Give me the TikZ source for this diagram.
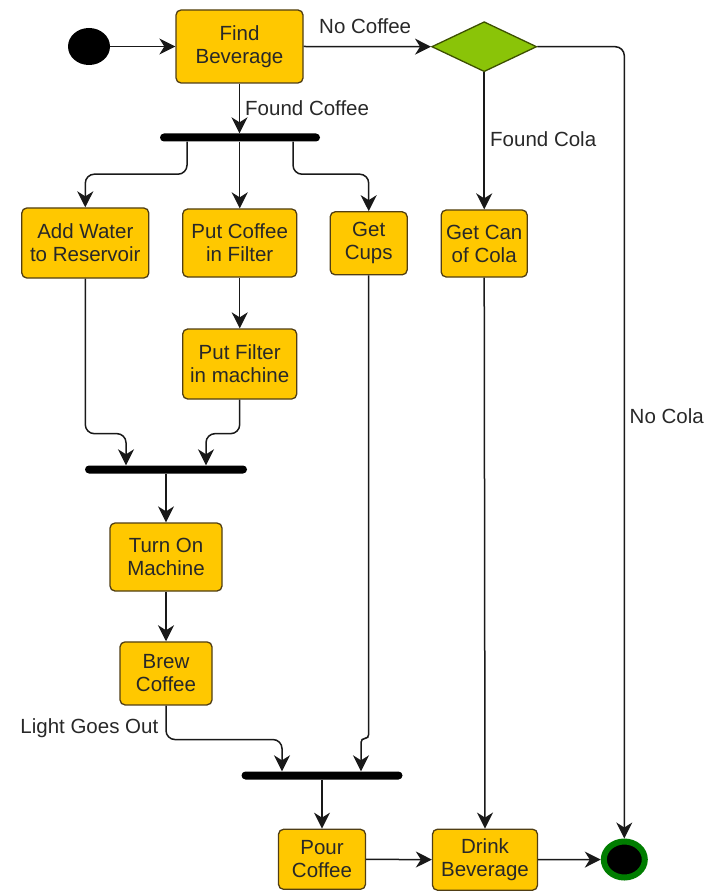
\documentclass[tikz,border=0pt]{standalone}
\usepackage{fontspec}
\setmainfont{Liberation Sans}
\usetikzlibrary{shapes.geometric,arrows.meta,calc}
\definecolor{boxfill}{RGB}{255,200,0}
\definecolor{boxline}{RGB}{80,62,20}
\definecolor{decfill}{RGB}{138,196,8}
\definecolor{decline}{RGB}{60,80,0}
\definecolor{endring}{RGB}{0,125,0}
\definecolor{ink}{RGB}{40,40,40}
\tikzset{
  act/.style={draw=boxline, fill=boxfill, line width=1.3pt, rounded corners=5pt,
    inner sep=0pt, align=center, text=ink, font=\fontsize{20.5}{23}\selectfont},
  bar/.style={fill=black, rounded corners=4pt, inner sep=0pt, minimum height=8pt},
  lbl/.style={text=ink, font=\fontsize{20.5}{23}\selectfont, inner sep=0pt},
  flow/.style={draw=black!90, line width=1.5pt, rounded corners=9pt,
    -{Stealth[length=16pt,width=16pt,inset=5pt]}},
}
\begin{document}
\begin{tikzpicture}[x=1pt,y=-1pt]
\useasboundingbox (0,0) rectangle (721,893);
% start / end
\node[ellipse, fill=black, minimum width=42pt, minimum height=37pt, inner sep=0pt] (start) at (89,46.5) {};
\node[ellipse, fill=black, draw=endring, line width=6pt, minimum width=41pt, minimum height=36pt, inner sep=0pt] (end) at (624.3,859.5) {};
% activities
\node[act, minimum width=127pt, minimum height=73pt] (find) at (239.5,46.5) {Find\\Beverage};
\node[act, minimum width=127pt, minimum height=70pt] (water) at (85.3,243) {Add Water\\to Reservoir};
\node[act, minimum width=114pt, minimum height=68pt] (putc) at (239.7,243) {Put Coffee\\in Filter};
\node[act, minimum width=77pt, minimum height=63pt] (cups) at (368.7,243.3) {Get\\Cups};
\node[act, minimum width=86pt, minimum height=67pt] (cola) at (484.2,243.5) {Get Can\\of Cola};
\node[act, minimum width=114pt, minimum height=70pt] (filt) at (239.7,364) {Put Filter\\in machine};
\node[act, minimum width=112pt, minimum height=68pt] (turn) at (166,557) {Turn On\\Machine};
\node[act, minimum width=92pt, minimum height=63pt] (brew) at (166,673.4) {Brew\\Coffee};
\node[act, minimum width=87pt, minimum height=60pt] (pour) at (322,859.3) {Pour\\Coffee};
\node[act, minimum width=105pt, minimum height=61pt] (drink) at (485,859.7) {Drink\\Beverage};
% decision
\node[diamond, draw=decline, fill=decfill, line width=1.3pt, minimum width=105pt, minimum height=50pt, inner sep=0pt] (dia) at (484.2,46.7) {};
% bars
\node[bar, minimum width=160pt] (bar1) at (240,137.5) {};
\node[bar, minimum width=162pt] (bar2) at (166,469.5) {};
\node[bar, minimum width=161pt] (bar3) at (322,775.5) {};
% labels
\node[lbl, anchor=west] (lnocoffee) at (319,26) {No Coffee};
\node[lbl, anchor=west] (lfound) at (245,108) {Found Coffee};
\node[lbl, anchor=west] (lcola) at (490,139) {Found Cola};
\node[lbl, anchor=west] (lnocola) at (629.5,416) {No Cola};
\node[lbl, anchor=east] (llight) at (158.5,728) {Light Goes Out};
% connectors
\draw[flow] (start) -- (find);
\draw[flow] (find.east) -- (dia.west);
\draw[flow] (find.south) -- (find.south |- bar1.north);
\draw[flow] ([xshift=-53pt]bar1.south) -- ++(0,32.5) -| (water.north);
\draw[flow] (bar1.south -| putc.north) -- (putc.north);
\draw[flow] ([xshift=53pt]bar1.south) -- ++(0,32.5) -| (cups.north);
\draw[flow] (putc) -- (filt);
\draw[flow] (water.south) -- ++(0,155) -| ([xshift=-40pt]bar2.north);
\draw[flow] (filt.south) -- ++(0,34) -| ([xshift=40pt]bar2.north);
\draw[flow] (bar2.south) -- (turn.north);
\draw[flow] (turn) -- (brew);
\draw[flow] (brew.south) -- ++(0,34) -| ([xshift=-40pt]bar3.north);
\draw[flow, rounded corners=4pt] (cups.south) -- ++(0,463) -| ([xshift=39pt]bar3.north);
\draw[flow] (bar3.south -| pour.north) -- (pour.north);
\draw[flow] (pour) -- (drink);
\draw[flow] (drink) -- (end);
\draw[flow] (dia.south) -- (cola.north);
\draw[flow] (cola.south) -- (drink.north);
\draw[flow] (dia.east) -| (end.north);
\end{tikzpicture}
\end{document}
